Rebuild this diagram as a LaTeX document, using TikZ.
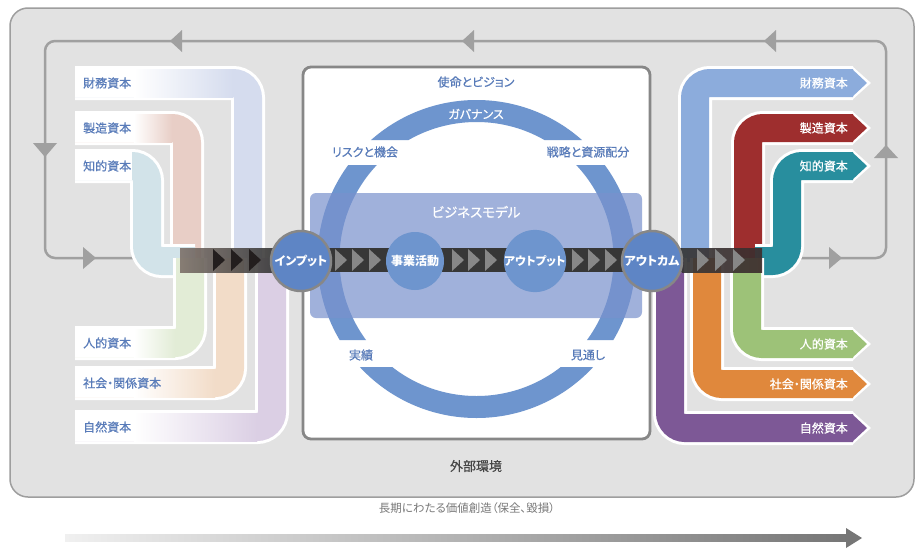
\documentclass[tikz,border=0pt]{standalone}
\usepackage{fontspec}
\setmainfont{Noto Sans CJK JP}[RawFeature=+palt]
\newfontfamily\medfont{Noto Sans CJK JP}[RawFeature=+palt, FakeBold=0.6]
\definecolor{bg}{RGB}{226,226,226}
\definecolor{outerb}{RGB}{158,158,158}
\definecolor{loopc}{RGB}{160,160,160}
\definecolor{boxb}{RGB}{135,135,135}
\definecolor{ringc}{RGB}{110,149,206}
\definecolor{rectc}{RGB}{120,145,205}
\definecolor{circc}{RGB}{94,133,197}
\definecolor{barc}{RGB}{55,55,55}
\definecolor{lbar}{RGB}{125,113,106}
\definecolor{rbar}{RGB}{62,46,46}
\definecolor{trig}{RGB}{135,135,135}
\definecolor{ltri}{RGB}{35,30,30}
\definecolor{lbl}{RGB}{88,123,185}
\definecolor{pfin}{RGB}{213,220,238}
\definecolor{pman}{RGB}{232,206,198}
\definecolor{pint}{RGB}{210,227,233}
\definecolor{phum}{RGB}{226,236,214}
\definecolor{psoc}{RGB}{242,220,200}
\definecolor{pnat}{RGB}{219,207,228}
\definecolor{ofin}{RGB}{140,172,220}
\definecolor{oman}{RGB}{158,46,46}
\definecolor{oint}{RGB}{40,142,158}
\definecolor{ohum}{RGB}{157,194,120}
\definecolor{osoc}{RGB}{224,136,60}
\definecolor{onat}{RGB}{125,88,150}
\definecolor{arrL}{RGB}{240,240,240}
\definecolor{arrR}{RGB}{118,118,118}
\definecolor{exttext}{RGB}{70,70,70}
\definecolor{lttext}{RGB}{120,120,120}
\tikzset{
  lbltext/.style={font=\medfont\fontsize{12}{12}\selectfont, inner sep=0pt},
  inlbl/.style={lbltext, text=lbl, anchor=west},
  outlbl/.style={lbltext, text=white, anchor=east},
  bandw/.style={draw=white, line width=34pt, rounded corners=15pt},
  bandc/.style={line width=28pt, rounded corners=15pt},
  ringlbl/.style={font=\medfont\fontsize{12}{12}\selectfont, text=lbl, inner sep=0pt},
  bigc/.style={circle, fill=circc, draw=boxb, line width=2.5pt, minimum size=60pt, inner sep=0pt, text=white, font=\bfseries\fontsize{12}{12}\selectfont},
  midc/.style={circle, fill=ringc, minimum size=58pt, inner sep=0pt, text=white, font=\bfseries\fontsize{12}{12}\selectfont},
}
\begin{document}
\begin{tikzpicture}[x=1pt,y=-1pt]
\useasboundingbox (0,0) rectangle (917,549);
\fill[white] (0,0) rectangle (917,549);
% outer box
\draw[outerb, line width=1.5pt, fill=bg, rounded corners=18pt] (10,8) rectangle (914,497);
% feedback loop
\draw[loopc, line width=2.5pt, rounded corners=10pt] (135,258) -- (45,258) -- (45,41) -- (886,41) -- (886,258) -- (790,258);
\fill[loopc] (170,41) -- (182,30) -- (182,52) -- cycle;
\fill[loopc] (462,41) -- (474,30) -- (474,52) -- cycle;
\fill[loopc] (764,41) -- (776,30) -- (776,52) -- cycle;
\fill[loopc] (33,143) -- (57,143) -- (45,157) -- cycle;
\fill[loopc] (83,247) -- (83,269) -- (96,258) -- cycle;
\fill[loopc] (874,158) -- (898,158) -- (886,145) -- cycle;
\fill[loopc] (829,247) -- (829,269) -- (842,258) -- cycle;
% central white box
\draw[boxb, line width=2.8pt, fill=white, rounded corners=8pt] (303,67) rectangle (650,439);
% ring
\begin{scope}
\clip (300,90) rectangle (655,140) (300,165) rectangle (655,340) (300,367) rectangle (655,430);
\fill[ringc, even odd rule] (476.5,259) circle[radius=159pt] (476.5,259) circle[radius=137pt];
\end{scope}
% business model rectangle
\fill[rectc, opacity=.7, rounded corners=6pt] (310,193) rectangle (642,318);
% input bands
\foreach \c/\y/\xv/\ye in {pfin/83/248/262, pman/128/187/262, pnat/427/272/258, psoc/383/230/258}{
  \draw[bandw] (75,\y) -- (\xv,\y) -- (\xv,\ye);
  \draw[bandc, draw=\c] (75,\y) -- (\xv,\y) -- (\xv,\ye);
}
\draw[bandw] (75,166) -- (147,166) -- (147,261) -- (195,261);
\draw[bandc, draw=pint] (75,166) -- (147,166) -- (147,261) -- (195,261);
\draw[bandw] (75,343) -- (190,343) -- (190,258);
\draw[bandc, draw=phum] (75,343) -- (190,343) -- (190,258);
% label fades
\fill[white] (75,69) rectangle (135,97);
\shade[left color=white, right color=pfin] (134,69) rectangle (233,97);
\fill[white] (75,114) rectangle (135,142);
\shade[left color=white, right color=pman] (134,114) rectangle (172,142);
\fill[white] (75,152) rectangle (132,180);
\fill[white] (75,329) rectangle (135,357);
\shade[left color=white, right color=phum] (134,329) rectangle (175,357);
\fill[white] (75,369) rectangle (135,397);
\shade[left color=white, right color=psoc] (134,369) rectangle (215,397);
\fill[white] (75,413) rectangle (135,441);
\shade[left color=white, right color=pnat] (134,413) rectangle (257,441);
% output bands
\foreach \c/\y/\xv/\ys in {ofin/83/695/262, oman/128/748/262}{
  \draw[bandw] (\xv,\ys) -- (\xv,\y) -- (853,\y);
  \fill[white] (852,\y-17) -- (871,\y) -- (852,\y+17) -- cycle;
  \draw[bandc, draw=\c] (\xv,\ys) -- (\xv,\y) -- (853,\y);
  \fill[fill=\c] (852,\y-14) -- (867,\y) -- (852,\y+14) -- cycle;
}
\draw[bandw] (755,261) -- (787,261) -- (787,166) -- (853,166);
\fill[white] (852,149) -- (871,166) -- (852,183) -- cycle;
\draw[bandc, draw=oint] (755,261) -- (787,261) -- (787,166) -- (853,166);
\fill[oint] (852,152) -- (867,166) -- (852,180) -- cycle;
\foreach \c/\y/\xv/\ys in {onat/428/670/258, osoc/384/707/258, ohum/344/747/258}{
  \draw[bandw] (\xv,\ys) -- (\xv,\y) -- (853,\y);
  \fill[white] (852,\y-17) -- (871,\y) -- (852,\y+17) -- cycle;
  \draw[bandc, draw=\c] (\xv,\ys) -- (\xv,\y) -- (853,\y);
  \fill[fill=\c] (852,\y-14) -- (867,\y) -- (852,\y+14) -- cycle;
}
% flow bar
\shade[left color=lbar, right color=barc, fill opacity=.9] (180,248) rectangle (272,272);
\fill[barc] (272,248) rectangle (682,272);
\shade[left color=barc, right color=rbar, fill opacity=.92] (682,248) rectangle (762,272);
\foreach \x in {213,231,249} \fill[ltri] (\x,249) -- (\x+12,260) -- (\x,271) -- cycle;
\foreach \x in {335,352,369,452,468,485,572,588,605,697,715,733} \fill[trig] (\x,249) -- (\x+12,260) -- (\x,271) -- cycle;
% circles
\node[bigc] (inp) at (301,261) {インプット};
\node[midc] (biz) at (415,261) {事業活動};
\node[midc] (outp) at (535,261) {\fontsize{11.5}{12}\selectfont アウトプット};
\node[bigc] (outc) at (652,261) {アウトカム};
% ring labels
\node[ringlbl] (mission) at (476,82) {使命とビジョン};
\node[ringlbl, text=white] (gov) at (476,114) {ガバナンス};
\node[ringlbl] (risk) at (365,152) {リスクと機会};
\node[ringlbl] (strat) at (588,152) {戦略と資源配分};
\node[ringlbl] (perf) at (361,355) {実績};
\node[ringlbl] (outlook) at (588,355) {見通し};
\node[font=\medfont\fontsize{13.5}{14}\selectfont, text=white, inner sep=0pt] (bm) at (476,212) {ビジネスモデル};
\node[font=\medfont\fontsize{13}{14}\selectfont, text=exttext, inner sep=0pt] (ext) at (476,466) {外部環境};
% input labels
\node[inlbl] (ifin) at (83,83) {財務資本};
\node[inlbl] (iman) at (83,128) {製造資本};
\node[inlbl] (iint) at (83,166) {知的資本};
\node[inlbl] (ihum) at (83,343) {人的資本};
\node[inlbl] (isoc) at (83,383) {社会・関係資本};
\node[inlbl] (inat) at (83,427) {自然資本};
% output labels
\node[outlbl] (ofinl) at (848,83) {財務資本};
\node[outlbl] (omanl) at (848,128) {製造資本};
\node[outlbl] (ointl) at (848,166) {知的資本};
\node[outlbl] (ohuml) at (848,344) {人的資本};
\node[outlbl] (osocl) at (848,384) {社会・関係資本};
\node[outlbl] (onatl) at (848,428) {自然資本};
% long-term arrow
\node[font=\fontsize{11.5}{12}\selectfont, text=lttext, inner sep=0pt] (lt) at (467,508) {長期にわたる価値創造（保全、毀損）};
\shade[left color=arrL, right color=arrR] (65,534.5) rectangle (848,541.5);
\fill[arrR] (846,528) -- (862,538) -- (846,548) -- cycle;
\end{tikzpicture}
\end{document}
